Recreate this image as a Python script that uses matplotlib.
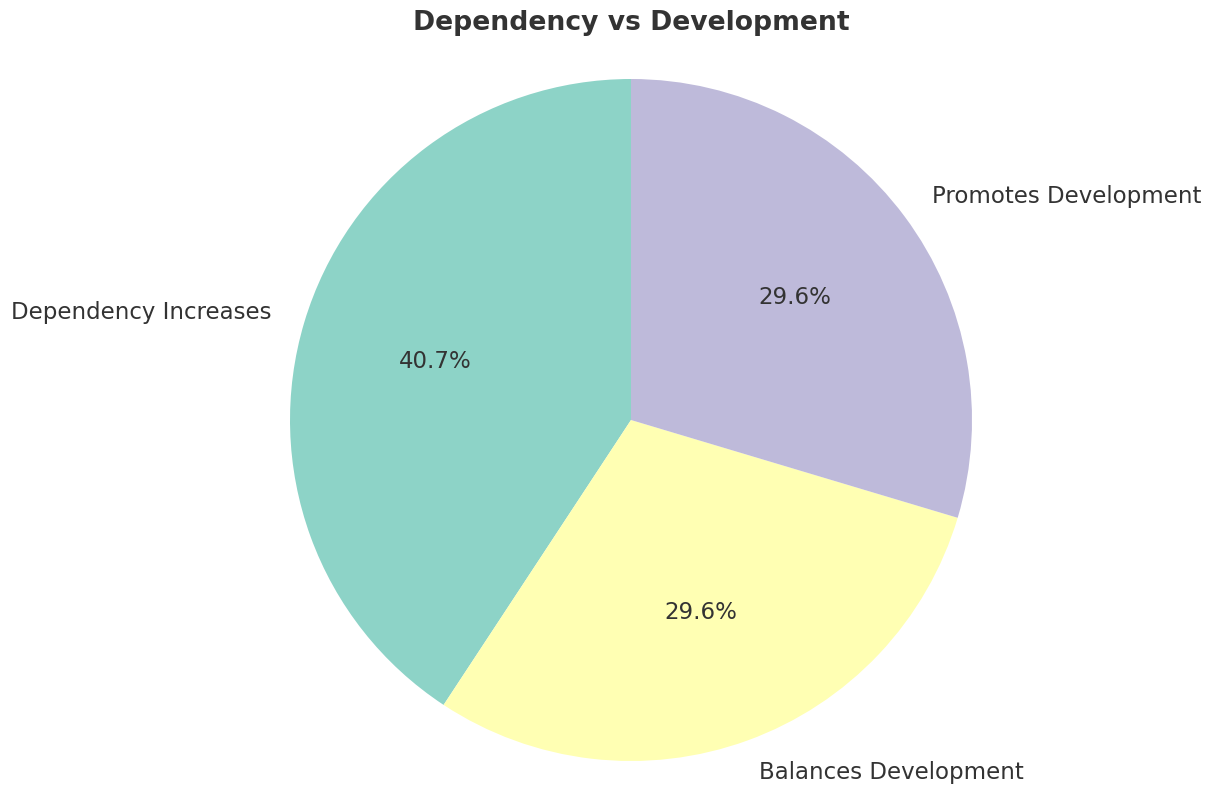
import matplotlib.pyplot as plt

# Data
labels = ["Dependency Increases", "Balances Development", "Promotes Development"]
counts = [11, 8, 8]
colors = ["#8dd3c7", "#ffffb3", "#bebada"]

# Layout in pixels (figure 1210x786, pie centre and radius)
W, H = 1210, 786
cx, cy, r = 631, 420, 341

fig = plt.figure(figsize=(W / 100, H / 100), dpi=100)
ax = fig.add_axes([0, 0, 1, 1])

wedges, texts, autotexts = ax.pie(
    counts, labels=labels, colors=colors, autopct="%1.1f%%",
    startangle=90, textprops={"fontsize": 16.5, "color": "#333333"},
)

ax.set_xlim(-cx / r, (W - cx) / r)
ax.set_ylim(-(H - cy) / r, cy / r)
ax.set_aspect("auto")

fig.text(631 / W, 1 - 23 / H, "Dependency vs Development", ha="center", va="center",
         fontsize=19.2, fontweight="bold", color="#333333")

fig.savefig("out.png", dpi=100)
